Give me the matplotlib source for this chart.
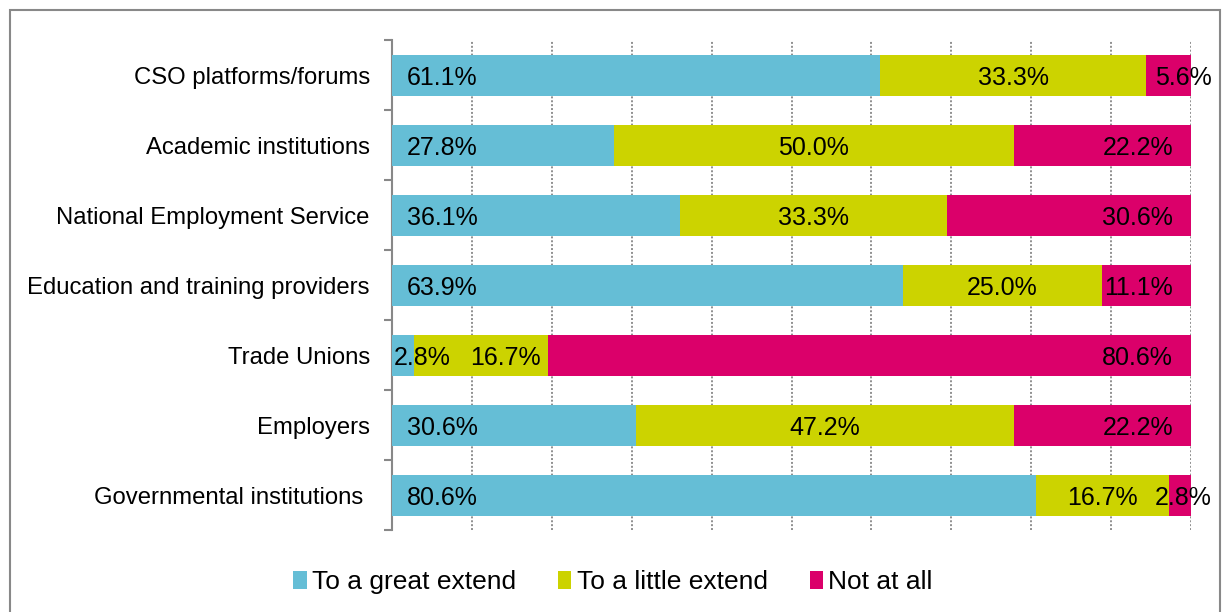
import numpy as np
import matplotlib.pyplot as plt
from matplotlib.patches import Rectangle
from matplotlib.transforms import offset_copy

plt.rcParams['font.family'] = ['Liberation Sans', 'DejaVu Sans']

# --- data ---
categories = ['CSO platforms/forums', 'Academic institutions', 'National Employment Service',
              'Education and training providers', 'Trade Unions', 'Employers',
              'Governmental institutions ']
great = [61.1, 27.8, 36.1, 63.9, 2.8, 30.6, 80.6]
little = [33.3, 50.0, 33.3, 25.0, 16.7, 47.2, 16.7]
not_at_all = [5.6, 22.2, 30.6, 11.1, 80.6, 22.2, 2.8]
series_names = ['To a great extend', 'To a little extend', 'Not at all']
colors = ['#65BED6', '#CCD300', '#DB006A']

fig = plt.figure(figsize=(12.26, 6.12), dpi=100)
ax = fig.add_axes([392 / 1226, 1 - 530 / 612, (1191 - 392) / 1226, 490 / 612])

y = np.arange(len(categories))
h = 41 / 70
ax.barh(y, great, height=h, color=colors[0], label=series_names[0], zorder=3)
ax.barh(y, little, left=great, height=h, color=colors[1], label=series_names[1], zorder=3)
left3 = np.array(great) + np.array(little)
ax.barh(y, not_at_all, left=left3, height=h, color=colors[2], label=series_names[2], zorder=3)

fs = 17.2
lfs = 18
# labels: cyan at base, yellow centered, magenta at end
for i in range(len(categories)):
    g, l, n = great[i], little[i], not_at_all[i]
    off = 15 if g > 10 else 2
    tr = offset_copy(ax.transData, fig=fig, x=off, y=0, units='dots')
    ax.text(0, y[i], f'{g:.1f}%', ha='left', va='center_baseline', fontsize=lfs,
            transform=tr, zorder=5)

    cx = g + l / 2
    dx = 24 if g < 10 else 0
    tr = offset_copy(ax.transData, fig=fig, x=dx, y=0, units='dots')
    ax.text(cx, y[i], f'{l:.1f}%', ha='center', va='center_baseline', fontsize=lfs,
            transform=tr, zorder=5)

    dx = -18 if n > 10 else 21
    tr = offset_copy(ax.transData, fig=fig, x=dx, y=0, units='dots')
    ax.text(100, y[i], f'{n:.1f}%', ha='right', va='center_baseline', fontsize=lfs,
            transform=tr, zorder=5, clip_on=False)

ax.set_xlim(0, 100)
ax.set_ylim(len(categories) - 0.5, -0.5)
ax.set_xticks(np.arange(0, 101, 10))
ax.tick_params(axis='x', length=0, labelbottom=False)
ax.grid(axis='x', color='#8f8f8f', linestyle=(0, (1, 1)), linewidth=1.4, zorder=1)

ax.set_yticks(y)
ax.set_yticklabels(categories, fontsize=fs)
ax.tick_params(axis='y', which='major', length=0, pad=16)
ax.set_yticks(np.arange(-0.5, len(categories)), minor=True)
ax.tick_params(axis='y', which='minor', length=6, width=1.5, color='#888888', direction='out')

for s in ['top', 'right', 'bottom']:
    ax.spines[s].set_visible(False)
ax.spines['left'].set_color('#888888')
ax.spines['left'].set_linewidth(1.5)

fig.legend(loc='center', bbox_to_anchor=(0.5, 1 - 582 / 612), ncol=3, frameon=False,
           fontsize=19, handlelength=0.5, handleheight=0.68, handletextpad=0.2,
           columnspacing=1.6)

# outer chart frame
fig.patches.append(Rectangle((10 / 1226, -0.02), 1210 / 1226, 1 - 10 / 612 + 0.02,
                             transform=fig.transFigure, fill=False,
                             edgecolor='#888888', linewidth=1.5))

fig.savefig('out.png', dpi=100)
